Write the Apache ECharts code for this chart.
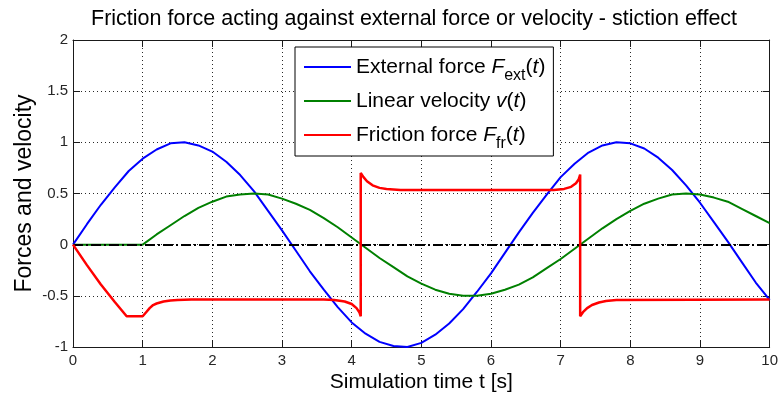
<!DOCTYPE html>
<html>
<head>
<meta charset="utf-8">
<title>Friction force acting against external force or velocity - stiction effect</title>
<script src="https://cdn.jsdelivr.net/npm/echarts@6/dist/echarts.min.js"></script>
<style>
  html, body { margin: 0; padding: 0; background: #ffffff; }
  #chart { width: 781px; height: 398px; }
</style>
</head>
<body>
<div id="chart"></div>
<script>
// Simulation time grid for the external force and the velocity [s]
const timeSteps = [
  0, 0.2, 0.4, 0.6, 0.8, 1.0, 1.2, 1.4, 1.6, 1.8,
  2.0, 2.2, 2.4, 2.6, 2.8, 3.0, 3.2, 3.4, 3.6, 3.8,
  4.0, 4.2, 4.4, 4.6, 4.8, 5.0, 5.2, 5.4, 5.6, 5.8,
  6.0, 6.2, 6.4, 6.6, 6.8, 7.0, 7.2, 7.4, 7.6, 7.8,
  8.0, 8.2, 8.4, 8.6, 8.8, 9.0, 9.2, 9.4, 9.6, 9.8, 10.0
];

// External force F_ext(t)
const externalForce = [
  0.00, 0.20, 0.39, 0.56, 0.72, 0.84, 0.93, 0.99, 1.00, 0.97,
  0.91, 0.81, 0.68, 0.52, 0.33, 0.14, -0.06, -0.26, -0.44, -0.61,
  -0.76, -0.87, -0.95, -0.99, -1.00, -0.96, -0.88, -0.77, -0.63, -0.46,
  -0.28, -0.08, 0.12, 0.31, 0.49, 0.66, 0.79, 0.90, 0.97, 1.00,
  0.99, 0.94, 0.85, 0.73, 0.58, 0.41, 0.22, 0.03, -0.17, -0.37, -0.54
];

// Linear velocity v(t) - the body sticks until t = 1 s
const linearVelocity = [
  0.00, 0.00, 0.00, 0.00, 0.00, 0.00, 0.10, 0.19, 0.28, 0.36,
  0.42, 0.47, 0.49, 0.50, 0.49, 0.45, 0.40, 0.34, 0.26, 0.17,
  0.07, -0.03, -0.13, -0.22, -0.31, -0.38, -0.44, -0.48, -0.50, -0.50,
  -0.48, -0.44, -0.39, -0.32, -0.23, -0.14, -0.04, 0.06, 0.16, 0.25,
  0.33, 0.40, 0.45, 0.49, 0.50, 0.49, 0.46, 0.42, 0.35, 0.28, 0.21
];

// Friction force F_fr(t), sampled more densely around the stiction peaks
const frictionTime = [
  0, 0.2, 0.4, 0.6, 0.77, 1.0, 1.05, 1.1, 1.15, 1.2,
  1.3, 1.4, 1.5, 1.7, 3.6, 3.75, 3.9, 4.0, 4.07, 4.11,
  4.13, 4.13, 4.17, 4.22, 4.3, 4.4, 4.5, 4.7, 6.9, 7.05,
  7.15, 7.22, 7.26, 7.28, 7.28, 7.32, 7.38, 7.45, 7.55, 7.65,
  7.8, 10.0
];
const frictionForce = [
  0.00, -0.20, -0.39, -0.56, -0.70, -0.70, -0.66, -0.62, -0.59, -0.575,
  -0.555, -0.545, -0.54, -0.535, -0.535, -0.54, -0.555, -0.58, -0.62, -0.66,
  -0.70, 0.70, 0.66, 0.62, 0.58, 0.555, 0.545, 0.535, 0.535, 0.545,
  0.565, 0.60, 0.64, 0.685, -0.70, -0.66, -0.62, -0.59, -0.565, -0.55,
  -0.54, -0.535
];

// Axis ranges and tick spacing
const xRange = [0, 10];
const xTickStep = 1;
const yRange = [-1, 2];
const yTickStep = 0.5;
const zeroLevel = 0;

// Series names and their legend markup (italic symbols, subscripts)
const seriesNames = ['External force Fext(t)', 'Linear velocity v(t)', 'Friction force Ffr(t)'];
const legendMarkup = {
  'External force Fext(t)': '{n|External force }{i|F}{s|ext}{n|(}{i|t}{n|)}',
  'Linear velocity v(t)': '{n|Linear velocity }{i|v}{n|(}{i|t}{n|)}',
  'Friction force Ffr(t)': '{n|Friction force }{i|F}{s|fr}{n|(}{i|t}{n|)}'
};

const FONT = "'Liberation Sans', Arial, Helvetica, sans-serif";
const AXIS_COLOR = '#1a1a1a';
const GRID_DOTS = { color: '#2a2a2a', width: 1, type: [1, 3] };

const pairs = (xs, ys) => xs.map((x, i) => [x, ys[i]]);

const frameAxis = (extra) => Object.assign({
  type: 'value',
  axisLine: { show: true, onZero: false, lineStyle: { color: AXIS_COLOR, width: 1 } },
  axisTick: { show: true, inside: true, length: 7, lineStyle: { color: AXIS_COLOR, width: 1 } },
  axisLabel: { show: false },
  splitLine: { show: false }
}, extra);

const chart = echarts.init(document.getElementById('chart'), null, { renderer: 'canvas' });

chart.setOption({
  animation: false,
  backgroundColor: '#ffffff',
  textStyle: { fontFamily: FONT },
  title: {
    text: 'Friction force acting against external force or velocity - stiction effect',
    left: 91,
    top: 8,
    padding: 0,
    textStyle: { fontFamily: FONT, fontSize: 21.5, fontWeight: 'normal', color: '#000000' }
  },
  grid: { left: 73, right: 6, top: 40, bottom: 47, containLabel: false },
  legend: {
    data: seriesNames,
    left: 295,
    top: 47,
    orient: 'vertical',
    padding: [3, 8, 4, 9],
    itemGap: 0,
    icon: 'rect',
    itemWidth: 47,
    itemHeight: 2,
    selectedMode: false,
    backgroundColor: '#ffffff',
    borderColor: '#000000',
    borderWidth: 1,
    borderRadius: 0,
    formatter: (name) => legendMarkup[name],
    textStyle: {
      fontFamily: FONT,
      fontSize: 21,
      lineHeight: 34,
      color: '#000000',
      rich: {
        n: { fontFamily: FONT, fontSize: 21, lineHeight: 34, color: '#000000' },
        i: { fontFamily: FONT, fontSize: 21, lineHeight: 34, fontStyle: 'italic', color: '#000000' },
        s: { fontFamily: FONT, fontSize: 16, lineHeight: 34, padding: [18, 0, 0, 0], color: '#000000' }
      }
    }
  },
  xAxis: [
    frameAxis({
      position: 'bottom',
      min: xRange[0], max: xRange[1], interval: xTickStep,
      axisLabel: { show: true, fontFamily: FONT, fontSize: 15, color: '#262626', margin: 6 },
      splitLine: { show: true, lineStyle: GRID_DOTS },
      name: 'Simulation time t [s]',
      nameLocation: 'middle',
      nameGap: 25,
      nameMoveOverlap: false,
      nameTextStyle: { fontFamily: FONT, fontSize: 21, color: '#000000' }
    }),
    frameAxis({ position: 'top', min: xRange[0], max: xRange[1], interval: xTickStep })
  ],
  yAxis: [
    frameAxis({
      position: 'left',
      min: yRange[0], max: yRange[1], interval: yTickStep,
      axisLabel: { show: true, fontFamily: FONT, fontSize: 15, color: '#262626', margin: 5 },
      splitLine: { show: true, lineStyle: GRID_DOTS },
      name: 'Forces and velocity',
      nameLocation: 'middle',
      nameGap: 37,
      nameMoveOverlap: false,
      nameTextStyle: { fontFamily: FONT, fontSize: 23, color: '#000000' }
    }),
    frameAxis({ position: 'right', min: yRange[0], max: yRange[1], interval: yTickStep })
  ],
  series: [
    {
      name: seriesNames[0],
      type: 'line',
      data: pairs(timeSteps, externalForce),
      symbol: 'none',
      lineStyle: { color: '#0000ff', width: 2 },
      itemStyle: { color: '#0000ff' }
    },
    {
      name: seriesNames[1],
      type: 'line',
      data: pairs(timeSteps, linearVelocity),
      symbol: 'none',
      lineStyle: { color: '#008000', width: 2 },
      itemStyle: { color: '#008000' },
      markLine: {
        silent: true,
        symbol: ['none', 'none'],
        label: { show: false },
        lineStyle: { color: '#000000', width: 2, type: [10, 3, 2, 3] },
        data: [{ yAxis: zeroLevel }]
      }
    },
    {
      name: seriesNames[2],
      type: 'line',
      z: 6,
      data: pairs(frictionTime, frictionForce),
      symbol: 'none',
      lineStyle: { color: '#ff0000', width: 2.5 },
      itemStyle: { color: '#ff0000' }
    }
  ]
});
</script>
</body>
</html>
